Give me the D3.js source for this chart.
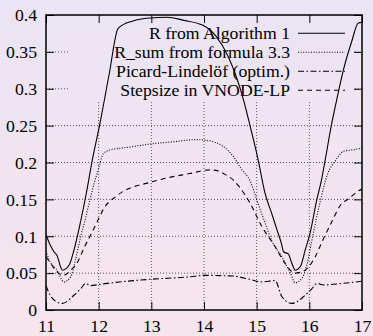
<!DOCTYPE html>
<html>
<head>
<meta charset="utf-8">
<script src="https://cdn.jsdelivr.net/npm/d3@7"></script>
<style>
  html, body { margin: 0; padding: 0; }
  svg { display: block; }
  svg text { font-family: "Liberation Serif", serif; font-size: 17.7px; fill: #000; }
</style>
</head>
<body>
<div id="chart"></div>
<script>
"use strict";

// values, [t, value]
const rAlgorithm = [
  [11.0, 0.102], [11.08, 0.088], [11.15, 0.079], [11.21, 0.074], [11.28, 0.058], [11.31, 0.054],
  [11.44, 0.061], [11.53, 0.081], [11.645, 0.116], [11.77, 0.16], [11.87, 0.2], [12.03, 0.255],
  [12.2, 0.32], [12.37, 0.382], [12.65, 0.392], [12.97, 0.396], [13.3, 0.397], [13.6, 0.393],
  [13.98, 0.386], [14.23, 0.371], [14.45, 0.345], [14.75, 0.285], [14.87, 0.251], [15.03, 0.203],
  [15.16, 0.158], [15.285, 0.131], [15.38, 0.11], [15.47, 0.09], [15.51, 0.079], [15.6, 0.076],
  [15.67, 0.063], [15.73, 0.054], [15.83, 0.059], [15.92, 0.081], [16.02, 0.106], [16.14, 0.149],
  [16.23, 0.176], [16.3, 0.203], [16.42, 0.251], [16.52, 0.285], [16.645, 0.325], [16.8, 0.363],
  [16.93, 0.389], [17.0, 0.39]
];
const rSum = [
  [11.0, 0.08], [11.06, 0.068], [11.21, 0.054], [11.34, 0.038], [11.47, 0.045], [11.56, 0.068],
  [11.66, 0.1], [11.75, 0.124], [11.835, 0.15], [11.99, 0.19], [12.09, 0.212], [12.215, 0.217],
  [12.6, 0.221], [12.97, 0.225], [13.4, 0.228], [13.86, 0.231], [14.05, 0.23], [14.37, 0.2215],
  [14.56, 0.208], [14.72, 0.19], [14.87, 0.176], [15.0, 0.15], [15.15, 0.12], [15.3, 0.092],
  [15.48, 0.072], [15.64, 0.05], [15.73, 0.037], [15.86, 0.043], [15.96, 0.063], [16.05, 0.095],
  [16.2, 0.145], [16.35, 0.185], [16.5, 0.203], [16.645, 0.215], [16.8, 0.217], [16.96, 0.219],
  [17.0, 0.22]
];
const picard = [
  [11.0, 0.033], [11.08, 0.02], [11.18, 0.012], [11.31, 0.009], [11.53, 0.02], [11.66, 0.029],
  [11.75, 0.036], [11.85, 0.033], [12.04, 0.035], [12.4, 0.038], [12.97, 0.0416], [13.73, 0.045],
  [14.01, 0.047], [14.55, 0.046], [14.87, 0.0416], [15.1, 0.038], [15.35, 0.04], [15.48, 0.018],
  [15.67, 0.009], [15.92, 0.02], [16.05, 0.029], [16.15, 0.036], [16.27, 0.034], [16.62, 0.036],
  [17.0, 0.039]
];
const stepsize = [
  [11.0, 0.072], [11.1, 0.062], [11.18, 0.054], [11.34, 0.047], [11.47, 0.054], [11.6, 0.065],
  [11.72, 0.084], [11.85, 0.102], [11.975, 0.12], [12.1, 0.138], [12.31, 0.153], [12.47, 0.161],
  [12.97, 0.173], [13.23, 0.178], [13.73, 0.185], [14.11, 0.19], [14.25, 0.189], [14.42, 0.183],
  [14.56, 0.176], [14.68, 0.166], [14.87, 0.1455], [15.1, 0.113], [15.35, 0.086], [15.54, 0.063],
  [15.73, 0.05], [15.92, 0.054], [16.11, 0.072], [16.27, 0.097], [16.43, 0.12], [16.58, 0.141],
  [16.77, 0.152], [16.92, 0.161], [17.0, 0.164]
];

const xTicks = [11, 12, 13, 14, 15, 16, 17];
const yTicks = [0, 0.05, 0.1, 0.15, 0.2, 0.25, 0.3, 0.35, 0.4];
const yTickLabels = ["0", "0.05", "0.1", "0.15", "0.2", "0.25", "0.3", "0.35", "0.4"];

const seriesNames = ["R from Algorithm 1", "R_sum from formula 3.3", "Picard-Lindelöf (optim.)", "Stepsize in VNODE-LP"];
const seriesData = [rAlgorithm, rSum, picard, stepsize];
const seriesDash = [null, "1,1.6", "6,2.5,1.5,2.5", "5,4"];

const width = 373, height = 336;
const margin = { top: 15, right: 11, bottom: 26, left: 46 };
const innerWidth = width - margin.left - margin.right;
const innerHeight = height - margin.top - margin.bottom;
const font = "'Liberation Serif', serif";

const svg = d3.select("#chart")
  .append("svg")
  .attr("width", width)
  .attr("height", height);

const defs = svg.append("defs");
const grad = defs.append("linearGradient")
  .attr("id", "bg")
  .attr("gradientUnits", "userSpaceOnUse")
  .attr("x1", 0).attr("y1", 0).attr("x2", 0).attr("y2", height);
grad.append("stop").attr("offset", "0%").attr("stop-color", "#ebe4f4");
grad.append("stop").attr("offset", "100%").attr("stop-color", "#f6e5ed");

defs.append("clipPath").attr("id", "plot")
  .append("rect").attr("width", innerWidth).attr("height", innerHeight);

svg.append("rect")
  .attr("width", width)
  .attr("height", height)
  .attr("fill", "url(#bg)");

const x = d3.scaleLinear().domain([11, 17]).range([0, innerWidth]);
const y = d3.scaleLinear().domain([0, 0.4]).range([innerHeight, 0]);

// grid
const grid = svg.append("g")
  .attr("transform", `translate(${margin.left},${margin.top})`)
  .attr("stroke", "#555")
  .attr("stroke-width", 1)
  .attr("stroke-dasharray", "1,2");
grid.selectAll(".gx")
  .data(xTicks.slice(1, -1)).enter()
  .append("line")
    .attr("x1", d => x(d)).attr("x2", d => x(d))
    .attr("y1", 0).attr("y2", innerHeight);
grid.selectAll(".gy")
  .data(yTicks.slice(1, -1)).enter()
  .append("line")
    .attr("x1", 0).attr("x2", innerWidth)
    .attr("y1", d => y(d)).attr("y2", d => y(d));

// opaque key box, same gradient so it hides the grid
svg.append("rect")
  .attr("x", 70).attr("y", margin.top)
  .attr("width", 354 - 70).attr("height", 100 - margin.top)
  .attr("fill", "url(#bg)");

const front = svg.append("g")
  .attr("transform", `translate(${margin.left},${margin.top})`);

// axes with inward ticks
const tickLen = 8;
const xAxisG = front.append("g")
  .attr("transform", `translate(0,${innerHeight})`)
  .call(d3.axisBottom(x).tickValues(xTicks).tickSize(-tickLen).tickFormat(d3.format("d")));
const yAxisG = front.append("g")
  .call(d3.axisLeft(y).tickValues(yTicks).tickSize(-tickLen).tickFormat((d, i) => yTickLabels[i]));
front.append("g").call(d3.axisTop(x).tickValues(xTicks).tickSize(-tickLen).tickFormat(""));
front.append("g").attr("transform", `translate(${innerWidth},0)`)
  .call(d3.axisRight(y).tickValues(yTicks).tickSize(-tickLen).tickFormat(""));

front.selectAll(".domain").remove();
front.selectAll("g").attr("font-family", font).attr("font-size", 17.7);
front.selectAll(".tick line").attr("stroke", "#000").attr("stroke-width", 1);
xAxisG.selectAll(".tick text").attr("dy", null).attr("y", 21.5);
yAxisG.selectAll(".tick text").attr("x", -9).attr("dy", "0.33em");

// legend
const rowY = i => 33.3 - margin.top + i * 19;
const legend = front.append("g");
seriesNames.forEach((name, i) => {
  legend.append("text")
    .attr("x", 290 - margin.left)
    .attr("y", rowY(i))
    .attr("dy", "0.33em")
    .attr("text-anchor", "end")
    .text(name);
  legend.append("line")
    .attr("x1", 298 - margin.left).attr("x2", 345 - margin.left)
    .attr("y1", rowY(i)).attr("y2", rowY(i))
    .attr("stroke", "#000")
    .attr("stroke-width", 1.1)
    .attr("stroke-dasharray", seriesDash[i]);
});

// curves
const line = d3.line()
  .x(d => x(d[0]))
  .y(d => y(d[1]))
  .curve(d3.curveMonotoneX);

front.append("g")
  .attr("clip-path", "url(#plot)")
  .selectAll("path")
  .data(seriesData).enter()
  .append("path")
    .attr("d", line)
    .attr("fill", "none")
    .attr("stroke", "#000")
    .attr("stroke-width", 1.1)
    .attr("stroke-dasharray", (d, i) => seriesDash[i]);

// border
front.append("rect")
  .attr("width", innerWidth)
  .attr("height", innerHeight)
  .attr("fill", "none")
  .attr("stroke", "#000")
  .attr("stroke-width", 1.5);
</script>
</body>
</html>
